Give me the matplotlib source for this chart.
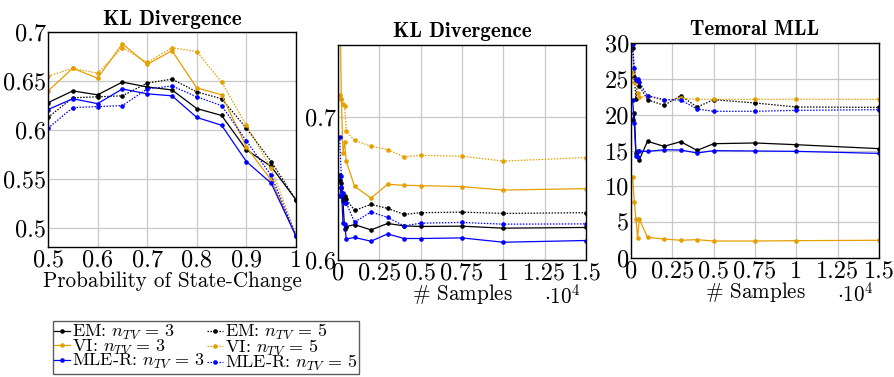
import matplotlib
matplotlib.use("Agg")
import matplotlib.pyplot as plt

plt.rcParams['font.family'] = ['cmr10', 'DejaVu Serif']
plt.rcParams['mathtext.fontset'] = 'cm'
plt.rcParams['axes.unicode_minus'] = False

# panel 1: KL divergence vs probability of state change
p_change = [0.5, 0.55, 0.6, 0.65, 0.7, 0.75, 0.8, 0.85, 0.9, 0.95, 1.0]
kl_em3 = [0.628, 0.640, 0.636, 0.649, 0.644, 0.641, 0.622, 0.615, 0.580, 0.563, 0.529]
kl_em5 = [0.613, 0.633, 0.634, 0.635, 0.648, 0.652, 0.639, 0.632, 0.602, 0.568, 0.529]
kl_vi3 = [0.640, 0.663, 0.653, 0.688, 0.667, 0.681, 0.643, 0.636, 0.583, 0.549, 0.492]
kl_vi5 = [0.655, 0.663, 0.658, 0.684, 0.669, 0.684, 0.680, 0.649, 0.605, 0.561, 0.494]
kl_mle3 = [0.621, 0.632, 0.627, 0.642, 0.637, 0.635, 0.613, 0.605, 0.568, 0.546, 0.492]
kl_mle5 = [0.602, 0.623, 0.624, 0.625, 0.642, 0.645, 0.634, 0.625, 0.589, 0.554, 0.492]

# panels 2 and 3: vs number of samples
samples = [100, 200, 300, 400, 500, 1000, 2000, 3000, 4000, 5000, 7500, 10000, 15000]
ks_em3 = [0.659, 0.654, 0.641, 0.6215, 0.6233, 0.6247, 0.621, 0.6255, 0.6238, 0.6234, 0.6236, 0.6222, 0.6227]
ks_em5 = [0.656, 0.650, 0.643, 0.645, 0.6425, 0.6346, 0.6388, 0.636, 0.6318, 0.633, 0.6334, 0.6325, 0.633]
ks_vi3 = [0.80, 0.7126, 0.675, 0.682, 0.669, 0.6514, 0.6432, 0.6528, 0.6521, 0.6519, 0.6512, 0.6488, 0.6498]
ks_vi5 = [0.715, 0.712, 0.709, 0.7075, 0.690, 0.6834, 0.6794, 0.677, 0.672, 0.673, 0.6724, 0.669, 0.6715]
ks_mle3 = [0.6444, 0.651, 0.626, 0.625, 0.6147, 0.6157, 0.6131, 0.6182, 0.615, 0.615, 0.6154, 0.6124, 0.6136]
ks_mle5 = [0.686, 0.6584, 0.6467, 0.6397, 0.640, 0.6264, 0.6336, 0.6297, 0.6238, 0.6257, 0.6262, 0.625, 0.6252]

mll_em3 = [19.2, 20.3, 14.6, 14.9, 13.7, 16.28, 15.58, 16.23, 15.02, 15.95, 16.05, 15.81, 15.26]
mll_em5 = [29.3, 25.26, 22.2, 24.65, 24.05, 22.09, 21.3, 22.65, 21.07, 22.09, 21.63, 21.07, 21.02]
mll_vi3 = [11.3, 7.86, 5.44, 2.79, 5.44, 2.88, 2.65, 2.47, 2.56, 2.37, 2.37, 2.42, 2.47]
mll_vi5 = [25.95, 24.56, 24.5, 23.0, 22.4, 22.56, 22.0, 22.28, 22.14, 22.14, 22.14, 22.16, 22.14]
mll_mle3 = [22.0, 18.84, 14.28, 14.1, 14.9, 14.88, 15.1, 15.07, 14.65, 14.98, 14.93, 14.88, 14.6]
mll_mle5 = [29.8, 26.5, 24.9, 24.98, 24.5, 22.65, 22.09, 22.05, 20.79, 20.47, 20.47, 20.6, 20.7]

ORANGE = '#E69F00'
BLUE = '#0000FF'
DOT = (0, (1.2, 1.2))
names = [r'EM: $n_{TV}\,=\,3$', r'EM: $n_{TV}\,=\,5$', r'VI: $n_{TV}\,=\,3$', r'VI: $n_{TV}\,=\,5$',
         r'MLE-R: $n_{TV}\,=\,3$', r'MLE-R: $n_{TV}\,=\,5$']
styles = [('black', '-'), ('black', DOT), (ORANGE, '-'), (ORANGE, DOT), (BLUE, '-'), (BLUE, DOT)]

TICK_FS = 17.5
LABEL_FS = 15.2
TITLE_FS = 15

fig = plt.figure(figsize=(8.95, 3.77), dpi=100)
W, H = 895.0, 377.0

def make_ax(l, r, t, b):
    return fig.add_axes([l / W, 1 - b / H, (r - l) / W, (b - t) / H])

def draw(ax, x, series):
    hs = []
    for ys, (c, ls), nm in zip(series, styles, names):
        h, = ax.plot(x, ys, color=c, ls=ls, lw=0.9, marker='o', ms=2.3, label=nm, clip_on=True)
        hs.append(h)
    ax.grid(True, color='#c8c8c8', lw=0.9)
    ax.set_axisbelow(True)
    ax.tick_params(length=0, labelsize=TICK_FS)
    ax.tick_params(axis='y', pad=1.5)
    ax.tick_params(axis='x', pad=2)
    for s in ax.spines.values():
        s.set_linewidth(1.0)
    return hs

ax1 = make_ax(48, 296, 32, 247)
hs = draw(ax1, p_change, [kl_em3, kl_em5, kl_vi3, kl_vi5, kl_mle3, kl_mle5])
ax1.set_xlim(0.5, 1.0)
ax1.set_ylim(0.481, 0.70)
ax1.set_xticks([0.5, 0.6, 0.7, 0.8, 0.9, 1.0])
ax1.set_xticklabels(['0.5', '0.6', '0.7', '0.8', '0.9', '1'])
ax1.set_yticks([0.5, 0.55, 0.6, 0.65, 0.7])
ax1.set_yticklabels(['0.5', '0.55', '0.6', '0.65', '0.7'])
ax1.set_xlabel('Probability of State-Change', fontsize=LABEL_FS, labelpad=0)
ax1.set_title('KL Divergence', fontsize=TITLE_FS, family='cmb10', pad=5)

sticks = [0, 2500, 5000, 7500, 10000, 12500, 15000]
slabels = ['0', '0.25', '0.5', '0.75', '1', '1.25', '1.5']

ax2 = make_ax(338, 586, 45, 260)
draw(ax2, samples, [ks_em3, ks_em5, ks_vi3, ks_vi5, ks_mle3, ks_mle5])
ax2.set_xlim(0, 15000)
ax2.set_ylim(0.6, 0.75)
ax2.set_xticks(sticks)
ax2.set_xticklabels(slabels)
ax2.set_yticks([0.6, 0.7])
ax2.set_yticklabels(['0.6', '0.7'])
ax2.set_xlabel(r'$\#$ Samples', fontsize=LABEL_FS, labelpad=-2)
ax2.set_title('KL Divergence', fontsize=TITLE_FS, family='cmb10', pad=6)
ax2.text(0.98, -0.165, r'$\cdot 10^4$', transform=ax2.transAxes, fontsize=LABEL_FS,
         ha='right', va='center')

ax3 = make_ax(631, 879, 43, 258)
draw(ax3, samples, [mll_em3, mll_em5, mll_vi3, mll_vi5, mll_mle3, mll_mle5])
ax3.set_xlim(0, 15000)
ax3.set_ylim(0, 30)
ax3.set_xticks(sticks)
ax3.set_xticklabels(slabels)
ax3.set_yticks([0, 5, 10, 15, 20, 25, 30])
ax3.set_xlabel(r'$\#$ Samples', fontsize=LABEL_FS, labelpad=-2)
ax3.set_title('Temoral MLL', fontsize=TITLE_FS, family='cmb10', pad=6)
ax3.text(0.98, -0.165, r'$\cdot 10^4$', transform=ax3.transAxes, fontsize=LABEL_FS,
         ha='right', va='center')

order = [0, 2, 4, 1, 3, 5]
leg = fig.legend([hs[i] for i in order], [names[i] for i in order], ncol=2,
                 loc='upper left', bbox_to_anchor=(53 / W, 1 - 321 / H),
                 fontsize=13, frameon=True, fancybox=False, edgecolor='#333333',
                 handlelength=0.9, handletextpad=0.1, columnspacing=0.1,
                 labelspacing=-0.25, borderpad=0.05, borderaxespad=0)
leg.get_frame().set_linewidth(1.0)

fig.savefig('out.png', dpi=100)
